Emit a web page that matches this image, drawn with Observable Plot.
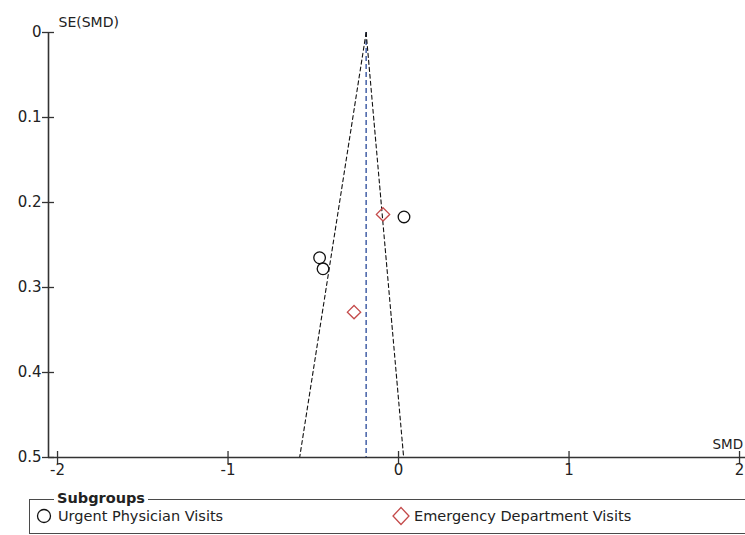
<!DOCTYPE html>
<html><head><meta charset="utf-8">
<script src="https://cdn.jsdelivr.net/npm/d3@7"></script>
<script src="https://cdn.jsdelivr.net/npm/@observablehq/plot@0.6"></script>
<style>
html,body{margin:0;padding:0;background:#fff;}
body{width:745px;height:535px;overflow:hidden;position:relative;font-family:"DejaVu Sans",sans-serif;color:#222;}
#chart{position:absolute;left:0;top:0;}
#legend{position:absolute;left:29px;top:499px;width:760px;height:35px;border:1.6px solid #4a4a4a;border-right:none;box-sizing:border-box;}
#legend .title{position:absolute;left:24px;top:-11px;background:#fff;padding:0 3px;font-weight:bold;font-size:14.5px;line-height:18px;color:#222;}
#legend .item{position:absolute;top:7px;font-size:14.5px;line-height:18px;white-space:nowrap;color:#222;}
#legend .item svg{position:absolute;top:1px;}
</style>
</head><body>
<div id="chart"></div>
<div id="legend">
  <span class="title">Subgroups</span>
  <span class="item" style="left:28px"><svg width="16" height="16" style="left:-22px"><circle cx="8" cy="8" r="6.5" fill="none" stroke="#111" stroke-width="1.3"/></svg>Urgent Physician Visits</span>
  <span class="item" style="left:384px"><svg width="20" height="20" style="left:-23px;top:-1px"><path d="M10,1.5L18,10L10,18.5L2,10Z" fill="none" stroke="#c44a4a" stroke-width="1.3"/></svg>Emergency Department Visits</span>
</div>
<script>
// Tick values
const xTicks = [-2, -1, 0, 1, 2];
const yTicks = [0, 0.1, 0.2, 0.3, 0.4, 0.5];
const xDomain = [-2.053, 2.035];
const yDomain = [0, 0.5];

// Urgent Physician Visits (circles)
const upvSMD = [0.032, -0.463, -0.443];
const upvSE = [0.217, 0.265, 0.278];

// Emergency Department Visits (diamonds)
const edSMD = [-0.091, -0.261];
const edSE = [0.214, 0.329];

// Pooled estimate and funnel limits
const pooledSMD = -0.19;
const funnelSE = [0, 0.5];
const funnelLeftSMD = [-0.19, -0.58];
const funnelRightSMD = [-0.19, 0.03];

const upv = upvSMD.map((x, i) => ({x, y: upvSE[i]}));
const ed = edSMD.map((x, i) => ({x, y: edSE[i]}));
const funnelLeft = funnelSE.map((y, i) => ({x: funnelLeftSMD[i], y}));
const funnelRight = funnelSE.map((y, i) => ({x: funnelRightSMD[i], y}));

const chart = Plot.plot({
  width: 745,
  height: 490,
  marginLeft: 48,
  marginRight: 0,
  marginTop: 32,
  marginBottom: 33,
  style: {fontFamily: "DejaVu Sans", fontSize: "14px", color: "#222", background: "#fff", overflow: "visible"},
  x: {domain: xDomain, label: null},
  y: {domain: yDomain, label: null, reverse: true},
  marks: [
    Plot.ruleX([pooledSMD], {stroke: "#3554a0", strokeWidth: 1.4, strokeDasharray: "5,3"}),
    Plot.line(funnelLeft, {x: "x", y: "y", stroke: "#111", strokeWidth: 1.1, strokeDasharray: "4,3"}),
    Plot.line(funnelRight, {x: "x", y: "y", stroke: "#111", strokeWidth: 1.1, strokeDasharray: "4,3"}),
    Plot.ruleX([xDomain[0]], {stroke: "#333", strokeWidth: 1.6}),
    Plot.ruleY([yDomain[1]], {stroke: "#333", strokeWidth: 1.6}),
    Plot.axisX({ticks: xTicks, tickSize: 13, dy: -6, text: null, stroke: "#333", strokeWidth: 1.3}),
    Plot.axisX({ticks: xTicks, tickSize: 0, tickPadding: 7, tickFormat: d => String(d), fill: "#222", fontSize: 15}),
    Plot.axisY({ticks: yTicks, tickSize: 12, dx: 6, text: null, stroke: "#333", strokeWidth: 1.3}),
    Plot.axisY({ticks: yTicks, tickSize: 0, tickPadding: 7, tickFormat: d => String(d), fill: "#222", fontSize: 15}),
    Plot.dot(upv, {x: "x", y: "y", r: 5.8, stroke: "#111", strokeWidth: 1.3, fill: "none"}),
    Plot.dot(ed, {x: "x", y: "y", r: 6, symbol: "diamond2", stroke: "#c44a4a", strokeWidth: 1.3, fill: "none"}),
    Plot.text(["SE(SMD)"], {frameAnchor: "top-left", dx: 10, dy: -15, textAnchor: "start", fontSize: 14, fill: "#222"}),
    Plot.text(["SMD"], {frameAnchor: "bottom-right", dx: -33, dy: -9, textAnchor: "start", fontSize: 13.5, fill: "#222"})
  ]
});
document.getElementById("chart").appendChild(chart);
</script>
</body></html>
